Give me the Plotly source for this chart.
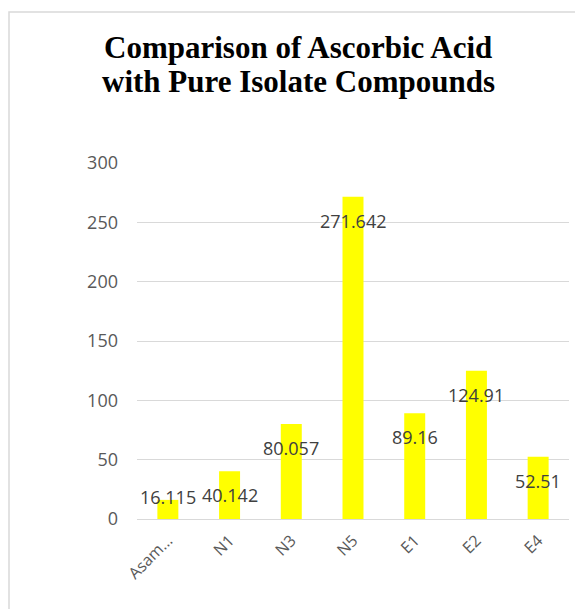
import plotly.graph_objects as go

categories = ["Asam...", "N1", "N3", "N5", "E1", "E2", "E4"]
values = [16.115, 40.142, 80.057, 271.642, 89.16, 124.91, 52.51]
labels = ["16.115", "40.142", "80.057", "271.642", "89.16", "124.91", "52.51"]
y_ticks = [0, 50, 100, 150, 200, 250, 300]
title_lines = ["Comparison of Ascorbic Acid", "with Pure Isolate Compounds"]

W, H = 583, 609
OFF = 8  # page body margin
L, R, T, B = 137 - OFF, 14 + OFF, 163 - OFF, 90 + OFF
plot_h = H - T - B
plot_w = W - L - R
px_per_unit = plot_h / 300.0


def px_x(px):
    return (px - OFF - L) / plot_w


def px_y(py):
    return (H - B - (py - OFF)) / plot_h


fig = go.Figure()
fig.add_trace(go.Bar(
    x=categories, y=values, marker=dict(color="#ffff00", line=dict(width=0)),
    hoverinfo="skip", showlegend=False,
))

annotations = []
for c, v, t in zip(categories, values, labels):
    y_lab = max(v - 24 / px_per_unit, 22 / px_per_unit)
    annotations.append(dict(
        x=c, y=y_lab, xref="x", yref="y", text=t, showarrow=False,
        yanchor="middle", xanchor="center",
        font=dict(family="Open Sans, DejaVu Sans", size=18, color="#404040"),
    ))

for line, py in zip(title_lines, [47, 81]):
    annotations.append(dict(
        x=px_x(298), y=px_y(py), xref="paper", yref="paper",
        text="<b>" + line + "</b>", showarrow=False,
        xanchor="center", yanchor="middle",
        font=dict(family="Liberation Serif, Times New Roman", size=31, color="#000000"),
    ))

fig.update_layout(
    width=W, height=H,
    margin=dict(l=L, r=R, t=T, b=B, autoexpand=False),
    paper_bgcolor="white", plot_bgcolor="white",
    bargap=0.66,
    xaxis=dict(
        tickangle=-45, tickfont=dict(family="Open Sans, DejaVu Sans", size=16, color="#595959"),
        showgrid=False, showline=False, ticks="", ticklabelstandoff=8,
    ),
    yaxis=dict(
        range=[0, 300], tickvals=y_ticks, ticktext=[str(v) for v in y_ticks],
        tickfont=dict(family="Open Sans, DejaVu Sans", size=18, color="#595959"),
        showgrid=True, gridcolor="#d9d9d9", gridwidth=1,
        zeroline=True, zerolinecolor="#d9d9d9", zerolinewidth=1,
        showline=False, ticks="", ticklabelstandoff=18,
    ),
    annotations=annotations,
    shapes=[dict(
        type="rect", xref="paper", yref="paper",
        x0=px_x(9), x1=px_x(W + 40),
        y0=-0.6, y1=px_y(12),
        line=dict(color="#d9d9d9", width=1.5), fillcolor="rgba(0,0,0,0)", layer="below",
    )],
)

fig.write_html("out.html")
